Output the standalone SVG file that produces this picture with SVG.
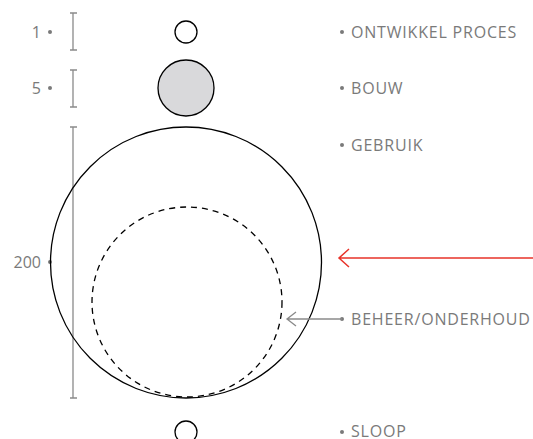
<svg xmlns="http://www.w3.org/2000/svg" width="533" height="439" viewBox="0 0 533 439">
<style>
.lbl{font-family:"Open Sans","Noto Sans",sans-serif;font-size:16px;fill:#7a7a7a;letter-spacing:0.8px}
.num{font-family:"Open Sans","Noto Sans",sans-serif;font-size:16px;fill:#7a7a7a;text-anchor:end}
.dot{fill:#7a7a7a}
.bar{stroke:#8a8a8a;stroke-width:1.3;fill:none}
.c{fill:none;stroke:#000;stroke-width:1.3}
</style>
<rect width="533" height="439" fill="#fff"/>
<g id="scale">
<path class="bar" d="M73 13V50M70 13H77M70 50H77"/>
<path class="bar" d="M73 70V107M70 70H77M70 107H77"/>
<path class="bar" d="M73 127V398M70 127H77M70 398H77"/>
<text class="num" x="41" y="37.5">1</text><circle class="dot" cx="50" cy="32" r="2"/>
<text class="num" x="41" y="93.5">5</text><circle class="dot" cx="50" cy="88" r="2"/>
<text class="num" x="41" y="267.5">200</text><circle class="dot" cx="50" cy="262" r="2"/>
</g>
<g id="ontwikkel"><circle class="c" cx="186" cy="32" r="11"/><circle class="dot" cx="342" cy="32" r="2"/><text class="lbl" x="351" y="37.5">ONTWIKKEL PROCES</text></g>
<g id="bouw"><circle cx="186" cy="88" r="28" fill="#d9d9db" stroke="#000" stroke-width="1.3"/><circle class="dot" cx="342" cy="88" r="2"/><text class="lbl" x="351" y="93.5">BOUW</text></g>
<g id="gebruik"><circle class="c" cx="186" cy="262.5" r="135.5"/><circle class="dot" cx="342" cy="145" r="2"/><text class="lbl" x="351" y="150.5">GEBRUIK</text></g>
<g id="beheer"><circle class="c" cx="187" cy="302" r="95" stroke-dasharray="6,5"/><circle class="dot" cx="342" cy="319" r="2"/><text class="lbl" x="351" y="324.5">BEHEER/ONDERHOUD</text></g>
<g id="sloop"><circle class="c" cx="186" cy="432" r="11"/><circle class="dot" cx="342" cy="432" r="2"/><text class="lbl" x="351" y="437">SLOOP</text></g>
<g id="connectors">
<path d="M533 258H339M349 249L339 258L349 267" fill="none" stroke="#e8332a" stroke-width="1.5"/>
<path d="M342 319H287M296 312L287 319L296 326" fill="none" stroke="#8a8a8a" stroke-width="1.3"/>
</g>
</svg>
